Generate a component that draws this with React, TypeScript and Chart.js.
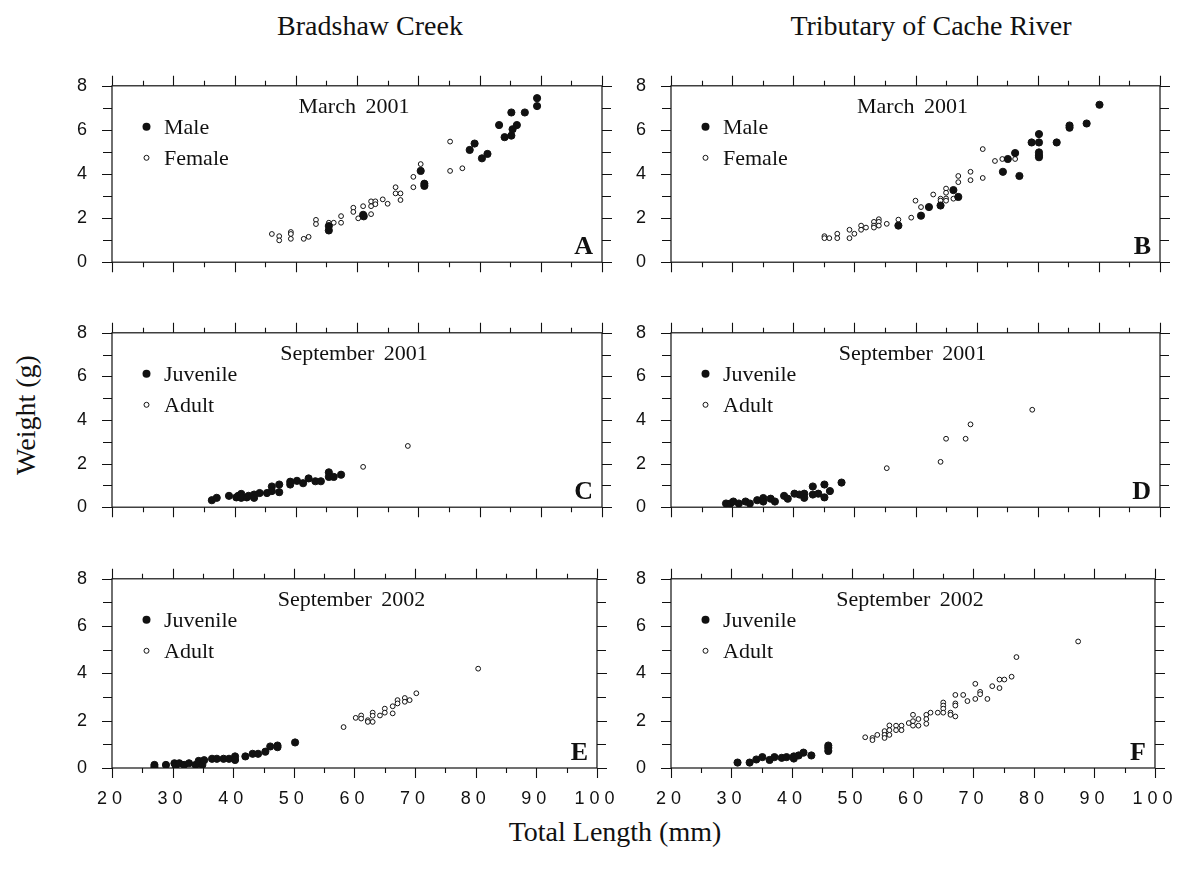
import React, { useEffect, useRef } from "react";
import { Chart, registerables } from "chart.js";
Chart.register(...registerables);

const SERIF = '"Liberation Serif", "Times New Roman", serif';
const SANS = '"Liberation Sans", Arial, sans-serif';
const INK = "#111";

// ---------- tick labels ----------
const xTickValues = [20, 30, 40, 50, 60, 70, 80, 90, 100];
const yTickValues = [0, 2, 4, 6, 8];

// ---------- data: [total length mm, weight g] ----------
const bradshawMar2001Male: [number, number][] = [
  [89.4, 7.44], [89.4, 7.08], [85.2, 6.79], [87.4, 6.79], [83.2, 6.22], [86.1, 6.22],
  [85.4, 6.03], [84.1, 5.67], [85.2, 5.74], [79.2, 5.38], [78.4, 5.09], [81.3, 4.91],
  [80.4, 4.71], [70.4, 4.14], [71.0, 3.56], [71.0, 3.46], [61.0, 2.15], [61.1, 2.08],
  [55.4, 1.64], [55.4, 1.44],
];
const bradshawMar2001Female: [number, number][] = [
  [75.2, 5.47], [75.2, 4.14], [77.2, 4.26], [70.4, 4.45], [69.2, 3.87], [69.2, 3.4],
  [66.3, 3.4], [66.3, 3.12], [67.1, 3.12], [67.1, 2.82], [64.2, 2.85], [65.0, 2.65],
  [62.3, 2.76], [63.0, 2.76], [63.0, 2.63], [62.3, 2.54], [61.0, 2.54], [62.3, 2.18],
  [59.4, 2.47], [59.4, 2.28], [60.2, 1.99], [57.4, 2.09], [57.4, 1.79], [56.2, 1.79],
  [55.4, 1.79], [53.3, 1.92], [53.3, 1.73], [52.1, 1.15], [51.3, 1.06], [49.2, 1.37],
  [49.2, 1.28], [49.2, 1.06], [47.3, 1.18], [47.3, 0.99], [46.1, 1.28],
];
const cacheMar2001Male: [number, number][] = [
  [90.1, 7.14], [85.2, 6.2], [85.2, 6.1], [88.0, 6.29], [80.2, 5.81], [79.0, 5.43],
  [80.2, 5.43], [83.1, 5.43], [80.2, 4.98], [80.2, 4.85], [80.2, 4.76], [76.3, 4.95],
  [75.1, 4.68], [74.3, 4.1], [77.0, 3.91], [66.2, 3.27], [67.0, 2.96], [64.1, 2.57],
  [62.2, 2.5], [60.9, 2.11], [57.2, 1.66],
];
const cacheMar2001Female: [number, number][] = [
  [71.0, 5.13], [73.0, 4.59], [74.2, 4.68], [76.3, 4.68], [69.0, 4.1], [69.0, 3.72],
  [71.0, 3.82], [67.0, 3.91], [67.0, 3.63], [65.0, 3.34], [65.0, 3.15], [65.0, 2.89],
  [65.0, 2.79], [64.1, 2.88], [64.1, 2.79], [66.2, 2.88], [62.9, 3.07], [60.0, 2.79],
  [60.9, 2.5], [59.3, 2.02], [57.2, 1.93], [55.3, 1.74], [54.0, 1.95], [54.0, 1.83],
  [54.0, 1.66], [53.2, 1.83], [53.2, 1.66], [53.2, 1.57], [51.9, 1.57], [51.1, 1.66],
  [51.1, 1.47], [50.0, 1.29], [49.2, 1.47], [49.2, 1.09], [47.2, 1.29], [47.2, 1.09],
  [45.9, 1.09], [45.1, 1.18], [45.1, 1.09],
];
const bradshawSep2001Juvenile: [number, number][] = [
  [36.3, 0.32], [37.1, 0.43], [39.1, 0.52], [40.3, 0.45], [40.6, 0.52], [41.1, 0.61],
  [41.1, 0.43], [42.0, 0.45], [42.3, 0.52], [43.2, 0.58], [43.2, 0.43], [44.1, 0.65],
  [45.3, 0.65], [46.1, 0.95], [46.1, 0.74], [47.3, 1.04], [47.3, 0.69], [49.1, 1.04],
  [49.1, 1.17], [50.2, 1.21], [51.2, 1.1], [52.1, 1.32], [53.2, 1.19], [54.1, 1.19],
  [55.4, 1.6], [55.4, 1.39], [56.2, 1.39], [57.4, 1.49],
];
const bradshawSep2001Adult: [number, number][] = [
  [61.0, 1.85], [68.3, 2.81],
];
const cacheSep2001Juvenile: [number, number][] = [
  [29.0, 0.17], [29.7, 0.17], [30.2, 0.26], [31.1, 0.17], [32.2, 0.26], [32.9, 0.17],
  [34.1, 0.32], [35.1, 0.42], [35.1, 0.26], [36.3, 0.39], [37.0, 0.26], [38.5, 0.52],
  [39.1, 0.39], [40.2, 0.62], [41.0, 0.58], [41.8, 0.62], [41.8, 0.43], [43.2, 0.95],
  [43.2, 0.58], [44.1, 0.62], [45.1, 1.04], [45.1, 0.45], [46.0, 0.74], [47.9, 1.13],
];
const cacheSep2001Adult: [number, number][] = [
  [55.3, 1.79], [64.1, 2.08], [65.0, 3.14], [68.2, 3.14], [69.0, 3.8], [79.1, 4.47],
];
const bradshawSep2002Juvenile: [number, number][] = [
  [27.0, 0.13], [27.0, 0.04], [28.9, 0.13], [30.3, 0.2], [30.5, 0.1], [31.1, 0.2],
  [31.9, 0.13], [32.7, 0.2], [33.8, 0.13], [34.3, 0.3], [34.9, 0.13], [35.2, 0.33],
  [36.5, 0.39], [37.3, 0.39], [38.4, 0.39], [39.3, 0.39], [40.3, 0.49], [40.3, 0.34],
  [42.0, 0.49], [43.2, 0.6], [44.1, 0.6], [45.3, 0.69], [46.1, 0.91], [47.3, 0.95],
  [47.3, 0.88], [50.2, 1.08],
];
const bradshawSep2002Adult: [number, number][] = [
  [58.2, 1.73], [60.2, 2.12], [61.1, 2.22], [61.1, 2.09], [62.2, 2.02], [62.2, 1.95],
  [63.0, 2.34], [63.0, 2.21], [63.0, 1.95], [64.2, 2.22], [65.0, 2.51], [65.0, 2.34],
  [66.3, 2.61], [66.3, 2.31], [67.1, 2.87], [67.1, 2.73], [68.3, 2.96], [68.3, 2.8],
  [69.1, 2.87], [70.2, 3.16], [80.4, 4.2],
];
const cacheSep2002Juvenile: [number, number][] = [
  [31.0, 0.23], [33.0, 0.23], [34.1, 0.36], [35.1, 0.46], [36.3, 0.34], [37.1, 0.46],
  [38.3, 0.43], [39.1, 0.46], [40.3, 0.49], [40.3, 0.4], [41.1, 0.53], [41.9, 0.65],
  [43.2, 0.53], [46.0, 0.95], [46.0, 0.85], [46.0, 0.72],
];
const cacheSep2002Adult: [number, number][] = [
  [52.1, 1.3], [53.3, 1.27], [53.3, 1.18], [54.1, 1.4], [55.3, 1.56], [55.3, 1.4],
  [55.3, 1.27], [56.1, 1.8], [56.1, 1.6], [56.1, 1.4], [57.2, 1.79], [57.2, 1.6],
  [58.1, 1.79], [58.1, 1.6], [59.3, 1.9], [60.0, 2.25], [60.0, 1.98], [60.0, 1.79],
  [60.9, 2.07], [60.9, 1.79], [62.2, 2.25], [62.2, 2.07], [62.2, 1.87], [62.9, 2.34],
  [64.1, 2.34], [65.0, 2.77], [65.0, 2.64], [65.0, 2.51], [65.0, 2.34], [66.2, 2.34],
  [66.2, 2.25], [67.0, 2.73], [67.0, 2.64], [67.0, 2.18], [67.0, 3.09], [68.3, 3.09],
  [69.0, 2.83], [70.3, 2.92], [70.3, 3.56], [71.1, 3.22], [71.1, 3.12], [72.3, 2.92],
  [73.1, 3.46], [74.3, 3.74], [74.3, 3.38], [75.1, 3.74], [76.3, 3.86], [77.1, 4.69],
  [87.3, 5.35],
];

type Pt = [number, number];
interface PanelProps {
  left: number; top: number; width: number; height: number;
  filled: Pt[]; open: Pt[];
  title: string; legend: [string, string]; letter: string; xLabels: boolean;
}

const PAD_L = 70, PAD_R = 30, PAD_T = 15;

function Panel(p: PanelProps) {
  const ref = useRef<HTMLCanvasElement>(null);
  const padB = p.xLabels ? 60 : 15;
  const cw = p.width + PAD_L + PAD_R;
  const ch = p.height + PAD_T + padB;
  useEffect(() => {
    const canvas = ref.current!;
    const framePlugin = {
      id: "frame",
      beforeDraw(chart: any) {
        (chart.ctx as any).letterSpacing = "5px";
      },
      afterDraw(chart: any) {
        const ctx = chart.ctx as CanvasRenderingContext2D;
        (ctx as any).letterSpacing = "0px";
        const ca = chart.chartArea;
        const xs = chart.scales.x, ys = chart.scales.y;
        ctx.save();
        ctx.strokeStyle = INK;
        ctx.lineWidth = 1.2;
        ctx.strokeRect(ca.left, ca.top, ca.right - ca.left, ca.bottom - ca.top);
        ctx.lineWidth = 1.1;
        ctx.beginPath();
        for (let v = 20; v <= 100; v += 5) {
          const px = Math.round(xs.getPixelForValue(v)) + 0.5;
          const len = v % 10 === 0 ? 10 : 5;
          ctx.moveTo(px, ca.bottom); ctx.lineTo(px, ca.bottom + len);
          ctx.moveTo(px, ca.top); ctx.lineTo(px, ca.top - len);
        }
        for (let v = 0; v <= 8; v += 1) {
          const py = Math.round(ys.getPixelForValue(v)) + 0.5;
          const len = v % 2 === 0 ? 10 : 9;
          ctx.moveTo(ca.left, py); ctx.lineTo(ca.left - len, py);
          ctx.moveTo(ca.right, py); ctx.lineTo(ca.right + len, py);
        }
        ctx.stroke();

        // panel title
        ctx.fillStyle = INK;
        ctx.font = `22px ${SERIF}`;
        ctx.textAlign = "center";
        ctx.textBaseline = "alphabetic";
        (ctx as any).wordSpacing = "4px";
        ctx.fillText(p.title, (ca.left + ca.right) / 2 - 3, ca.top + 27);
        (ctx as any).wordSpacing = "0px";

        // legend
        const mx = ca.left + 34.5;
        const y1 = ca.top + 41, y2 = ca.top + 72;
        ctx.beginPath();
        ctx.arc(mx, y1, 4, 0, Math.PI * 2);
        ctx.fill();
        ctx.beginPath();
        ctx.lineWidth = 1;
        ctx.arc(mx, y2, 2.5, 0, Math.PI * 2);
        ctx.stroke();
        ctx.textAlign = "left";
        ctx.fillText(p.legend[0], ca.left + 52, y1 + 7);
        ctx.fillText(p.legend[1], ca.left + 52, y2 + 7);

        // panel letter
        ctx.font = `bold 26px ${SERIF}`;
        ctx.textAlign = "right";
        ctx.fillText(p.letter, ca.right - 9, ca.bottom - 8);
        ctx.restore();
      },
    };
    const chart = new Chart(canvas, {
      type: "scatter",
      data: {
        datasets: [
          {
            label: p.legend[0],
            data: p.filled.map(([x, y]) => ({ x, y })),
            pointRadius: 3.6,
            pointHoverRadius: 3.6,
            pointBackgroundColor: INK,
            pointBorderColor: INK,
            pointBorderWidth: 1,
          },
          {
            label: p.legend[1],
            data: p.open.map(([x, y]) => ({ x, y })),
            pointRadius: 2.4,
            pointHoverRadius: 2.4,
            pointBackgroundColor: "#fff",
            pointBorderColor: INK,
            pointBorderWidth: 1,
          },
        ],
      },
      options: {
        animation: false,
        responsive: false,
        devicePixelRatio: 1,
        events: [],
        layout: { padding: { left: 0, right: PAD_R, top: PAD_T, bottom: 0 } },
        plugins: {
          legend: { display: false },
          tooltip: { enabled: false },
          title: { display: false },
        },
        scales: {
          x: {
            type: "linear",
            min: 20,
            max: 100,
            afterFit: (s: any) => { s.height = padB; },
            afterBuildTicks: (s: any) => { s.ticks = xTickValues.map((v) => ({ value: v })); },
            grid: { display: false, drawTicks: false },
            border: { display: false },
            ticks: {
              display: p.xLabels,
              autoSkip: false,
              maxRotation: 0,
              padding: 20,
              color: INK,
              font: { family: SANS, size: 18 },
            },
          },
          y: {
            type: "linear",
            min: 0,
            max: 8,
            afterFit: (s: any) => { s.width = PAD_L; },
            afterBuildTicks: (s: any) => { s.ticks = yTickValues.map((v) => ({ value: v })); },
            grid: { display: false, drawTicks: false },
            border: { display: false },
            ticks: {
              padding: 20,
              color: INK,
              font: { family: SANS, size: 18 },
            },
          },
        },
      },
      plugins: [framePlugin],
    } as any);
    return () => chart.destroy();
  }, []);
  return (
    <canvas
      ref={ref}
      width={cw}
      height={ch}
      style={{ position: "absolute", left: p.left - PAD_L, top: p.top - PAD_T, width: cw, height: ch }}
    />
  );
}

const colLeft = [112, 671];
const colWidth = [490, 489];
const rowTop = [70, 317, 563];
const rowHeight = [208, 206, 205];

export default function App() {
  const textStyle: React.CSSProperties = {
    position: "absolute",
    fontFamily: SERIF,
    fontSize: 28,
    color: INK,
    whiteSpace: "nowrap",
    lineHeight: 1,
  };
  return (
    <div style={{ position: "absolute", left: 0, top: 0, width: 1187, height: 878, background: "#fff", overflow: "hidden" }}>
      <div style={{ ...textStyle, left: 370, top: 12, transform: "translateX(-50%)" }}>Bradshaw Creek</div>
      <div style={{ ...textStyle, left: 931, top: 12, transform: "translateX(-50%)" }}>Tributary of Cache River</div>
      <div style={{ ...textStyle, left: 615, top: 818, transform: "translateX(-50%)" }}>Total Length (mm)</div>
      <div style={{ ...textStyle, left: 26, top: 415, transform: "translate(-50%, -50%) rotate(-90deg)" }}>Weight (g)</div>

      <Panel left={colLeft[0]} top={rowTop[0]} width={colWidth[0]} height={rowHeight[0]}
        filled={bradshawMar2001Male} open={bradshawMar2001Female}
        title="March 2001" legend={["Male", "Female"]} letter="A" xLabels={false} />
      <Panel left={colLeft[1]} top={rowTop[0]} width={colWidth[1]} height={rowHeight[0]}
        filled={cacheMar2001Male} open={cacheMar2001Female}
        title="March 2001" legend={["Male", "Female"]} letter="B" xLabels={false} />
      <Panel left={colLeft[0]} top={rowTop[1]} width={colWidth[0]} height={rowHeight[1]}
        filled={bradshawSep2001Juvenile} open={bradshawSep2001Adult}
        title="September 2001" legend={["Juvenile", "Adult"]} letter="C" xLabels={false} />
      <Panel left={colLeft[1]} top={rowTop[1]} width={colWidth[1]} height={rowHeight[1]}
        filled={cacheSep2001Juvenile} open={cacheSep2001Adult}
        title="September 2001" legend={["Juvenile", "Adult"]} letter="D" xLabels={false} />
      <Panel left={colLeft[0]} top={rowTop[2]} width={colWidth[0]} height={rowHeight[2]}
        filled={bradshawSep2002Juvenile} open={bradshawSep2002Adult}
        title="September 2002" legend={["Juvenile", "Adult"]} letter="E" xLabels={true} />
      <Panel left={colLeft[1]} top={rowTop[2]} width={colWidth[1]} height={rowHeight[2]}
        filled={cacheSep2002Juvenile} open={cacheSep2002Adult}
        title="September 2002" legend={["Juvenile", "Adult"]} letter="F" xLabels={true} />
    </div>
  );
}
